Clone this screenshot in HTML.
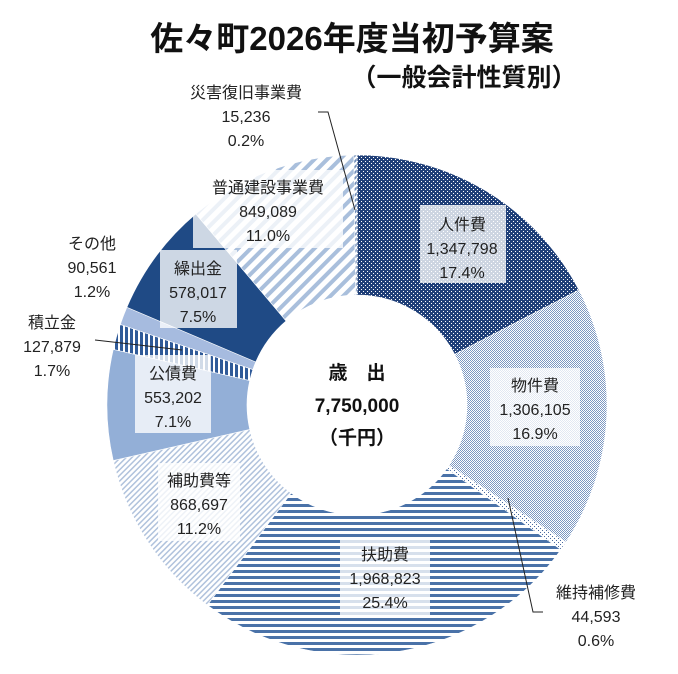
<!DOCTYPE html>
<html><head><meta charset="utf-8"><style>
html,body{margin:0;padding:0;background:#fff;}
svg{display:block;font-family:"Liberation Sans","Noto Sans CJK JP",sans-serif;}
.l{font-size:16px;fill:#222;text-anchor:middle;}
.c{font-size:19px;font-weight:bold;fill:#111;text-anchor:middle;}
</style></head><body>
<svg id="s" width="678" height="674" viewBox="0 0 678 674" xmlns="http://www.w3.org/2000/svg">
<defs>
<pattern id="p0" width="4" height="4" patternUnits="userSpaceOnUse"><rect width="4" height="4" fill="#1f3f78"/><rect x="1" y="1" width="1" height="1" fill="#fff"/><rect x="3" y="3" width="1" height="1" fill="#fff"/></pattern>
<pattern id="p1" width="2" height="2" patternUnits="userSpaceOnUse"><rect width="2" height="2" fill="#fff"/><rect width="1" height="1" fill="#7c98c2"/><rect x="1" y="1" width="1" height="1" fill="#7c98c2"/></pattern>
<pattern id="p2" width="4" height="4" patternUnits="userSpaceOnUse"><rect width="4" height="4" fill="#fff"/><rect width="1" height="1" fill="#4a6aa0"/><rect x="2" y="2" width="1" height="1" fill="#4a6aa0"/></pattern>
<pattern id="p3" width="6" height="6" patternUnits="userSpaceOnUse"><rect width="6" height="6" fill="#fff"/><rect width="6" height="3" fill="#4a72a8"/></pattern>
<pattern id="p4" width="4" height="4" patternUnits="userSpaceOnUse" patternTransform="rotate(45)"><rect width="4" height="4" fill="#fff"/><rect width="1.5" height="4" fill="#b0c2dc"/></pattern>
<pattern id="p6" width="5" height="5" patternUnits="userSpaceOnUse"><rect width="5" height="5" fill="#fff"/><rect width="3" height="5" fill="#2f5a98"/></pattern>
<pattern id="p9" width="9" height="9" patternUnits="userSpaceOnUse" patternTransform="rotate(45)"><rect width="9" height="9" fill="#fff"/><rect width="4" height="9" fill="#a9bfdc"/></pattern>
<pattern id="p10" width="4" height="4" patternUnits="userSpaceOnUse" patternTransform="rotate(45)"><rect width="4" height="4" fill="#fff"/><rect width="2" height="4" fill="#6e8cb8"/></pattern>
</defs>
<g id="pie"></g>
<text x="352" y="50" style="font-size:33px;font-weight:bold;text-anchor:middle;fill:#111">佐々町2026年度当初予算案</text>
<text x="464" y="86" style="font-size:25px;font-weight:bold;text-anchor:middle;fill:#111">（一般会計性質別）</text>
<g fill="#fff" fill-opacity="0.78">
<rect x="420" y="205" width="86" height="78"/>
<rect x="490" y="368" width="90" height="78"/>
<rect x="340" y="537" width="90" height="78"/>
<rect x="158" y="463" width="82" height="78"/>
<rect x="135" y="355" width="76" height="78"/>
<rect x="160" y="250" width="77" height="78"/>
<rect x="193" y="170" width="150" height="78"/>
</g>
<g stroke="#222" stroke-width="1" fill="none">
<polyline points="318,112 328,112 355,210"/>
<polyline points="95,340 182,350"/>
<polyline points="508,498 533,612 543,612"/>
</g>
<text class="l"><tspan x="462" y="230">人件費</tspan><tspan x="462" y="254">1,347,798</tspan><tspan x="462" y="278">17.4%</tspan></text>
<text class="l"><tspan x="535" y="391">物件費</tspan><tspan x="535" y="415">1,306,105</tspan><tspan x="535" y="439">16.9%</tspan></text>
<text class="l"><tspan x="385" y="560">扶助費</tspan><tspan x="385" y="584">1,968,823</tspan><tspan x="385" y="608">25.4%</tspan></text>
<text class="l"><tspan x="199" y="486">補助費等</tspan><tspan x="199" y="510">868,697</tspan><tspan x="199" y="534">11.2%</tspan></text>
<text class="l"><tspan x="173" y="379">公債費</tspan><tspan x="173" y="403">553,202</tspan><tspan x="173" y="427">7.1%</tspan></text>
<text class="l"><tspan x="198" y="274">繰出金</tspan><tspan x="198" y="298">578,017</tspan><tspan x="198" y="322">7.5%</tspan></text>
<text class="l"><tspan x="268" y="193">普通建設事業費</tspan><tspan x="268" y="217">849,089</tspan><tspan x="268" y="241">11.0%</tspan></text>
<text class="l"><tspan x="246" y="98">災害復旧事業費</tspan><tspan x="246" y="122">15,236</tspan><tspan x="246" y="146">0.2%</tspan></text>
<text class="l"><tspan x="92" y="249">その他</tspan><tspan x="92" y="273">90,561</tspan><tspan x="92" y="297">1.2%</tspan></text>
<text class="l"><tspan x="52" y="328">積立金</tspan><tspan x="52" y="352">127,879</tspan><tspan x="52" y="376">1.7%</tspan></text>
<text class="l"><tspan x="596" y="598">維持補修費</tspan><tspan x="596" y="622">44,593</tspan><tspan x="596" y="646">0.6%</tspan></text>
<text class="c"><tspan x="357" y="379">歳　出</tspan><tspan x="357" y="412">7,750,000</tspan><tspan x="357" y="444">（千円）</tspan></text>
</svg>
<script>
var v=[1347798,1306105,44593,1968823,868697,553202,127879,90561,578017,849089,15236];
var f=["url(#p0)","url(#p1)","url(#p2)","url(#p3)","url(#p4)","#93afd7","url(#p6)","#a6bbdf","#1f4a85","url(#p9)","url(#p10)"];
var T=7750000,cx=357,cy=405,R=250,r=110,a=0,h="";
function pt(rr,t){return (cx+rr*Math.sin(t)).toFixed(2)+","+(cy-rr*Math.cos(t)).toFixed(2);}
for(var i=0;i<v.length;i++){var b=a+v[i]/T*2*Math.PI,lg=(b-a)>Math.PI?1:0;
h+='<path fill="'+f[i]+'" stroke="#fff" stroke-width="0.6" d="M'+pt(R,a)+' A'+R+','+R+' 0 '+lg+' 1 '+pt(R,b)+' L'+pt(r,b)+' A'+r+','+r+' 0 '+lg+' 0 '+pt(r,a)+' Z"/>';a=b;}
document.getElementById("pie").innerHTML=h;
</script>
</body></html>
